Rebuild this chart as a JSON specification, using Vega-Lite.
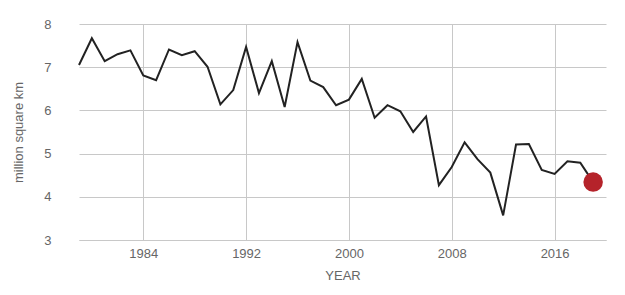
{
  "$schema": "https://vega.github.io/schema/vega-lite/v6.json",
  "width": 527,
  "height": 216,
  "autosize": {"type": "none"},
  "padding": {"left": 79, "top": 24, "right": 19, "bottom": 55},
  "background": "white",
  "config": {
    "view": {"stroke": null},
    "font": "Liberation Sans",
    "axis": {"labelColor": "#666", "titleColor": "#666", "labelFont": "Liberation Sans", "titleFont": "Liberation Sans", "labelFontSize": 13, "titleFontSize": 13, "titleFontWeight": "normal", "gridColor": "#c8c8c8", "ticks": false}
  },
  "data": {"values": [
    {"year": 1979, "extent": 7.05}, {"year": 1980, "extent": 7.67}, {"year": 1981, "extent": 7.14},
    {"year": 1982, "extent": 7.30}, {"year": 1983, "extent": 7.39}, {"year": 1984, "extent": 6.81},
    {"year": 1985, "extent": 6.70}, {"year": 1986, "extent": 7.41}, {"year": 1987, "extent": 7.28},
    {"year": 1988, "extent": 7.37}, {"year": 1989, "extent": 7.01}, {"year": 1990, "extent": 6.14},
    {"year": 1991, "extent": 6.47}, {"year": 1992, "extent": 7.47}, {"year": 1993, "extent": 6.40},
    {"year": 1994, "extent": 7.14}, {"year": 1995, "extent": 6.08}, {"year": 1996, "extent": 7.58},
    {"year": 1997, "extent": 6.69}, {"year": 1998, "extent": 6.54}, {"year": 1999, "extent": 6.12},
    {"year": 2000, "extent": 6.25}, {"year": 2001, "extent": 6.73}, {"year": 2002, "extent": 5.83},
    {"year": 2003, "extent": 6.12}, {"year": 2004, "extent": 5.98}, {"year": 2005, "extent": 5.50},
    {"year": 2006, "extent": 5.86}, {"year": 2007, "extent": 4.27}, {"year": 2008, "extent": 4.69},
    {"year": 2009, "extent": 5.26}, {"year": 2010, "extent": 4.87}, {"year": 2011, "extent": 4.56},
    {"year": 2012, "extent": 3.57}, {"year": 2013, "extent": 5.21}, {"year": 2014, "extent": 5.22},
    {"year": 2015, "extent": 4.62}, {"year": 2016, "extent": 4.53}, {"year": 2017, "extent": 4.82},
    {"year": 2018, "extent": 4.79}, {"year": 2019, "extent": 4.34}
  ]},
  "encoding": {
    "x": {"field": "year", "type": "quantitative",
      "scale": {"domain": [1979, 2020], "nice": false, "zero": false},
      "axis": {"values": [1984, 1992, 2000, 2008, 2016], "format": "d", "title": "YEAR", "domain": true, "domainColor": "#c8c8c8", "labelPadding": 7, "titlePadding": 9, "labelFlush": false}},
    "y": {"field": "extent", "type": "quantitative",
      "scale": {"domain": [3, 8], "nice": false, "zero": false},
      "axis": {"values": [3, 4, 5, 6, 7, 8], "title": "million square km", "domain": false, "labelPadding": 28, "titlePadding": 18}}
  },
  "layer": [
    {"mark": {"type": "line", "color": "#222", "strokeWidth": 2}},
    {"transform": [{"filter": "datum.year == 2019"}],
     "mark": {"type": "circle", "color": "#b5232a", "opacity": 1, "size": 380}}
  ]
}
